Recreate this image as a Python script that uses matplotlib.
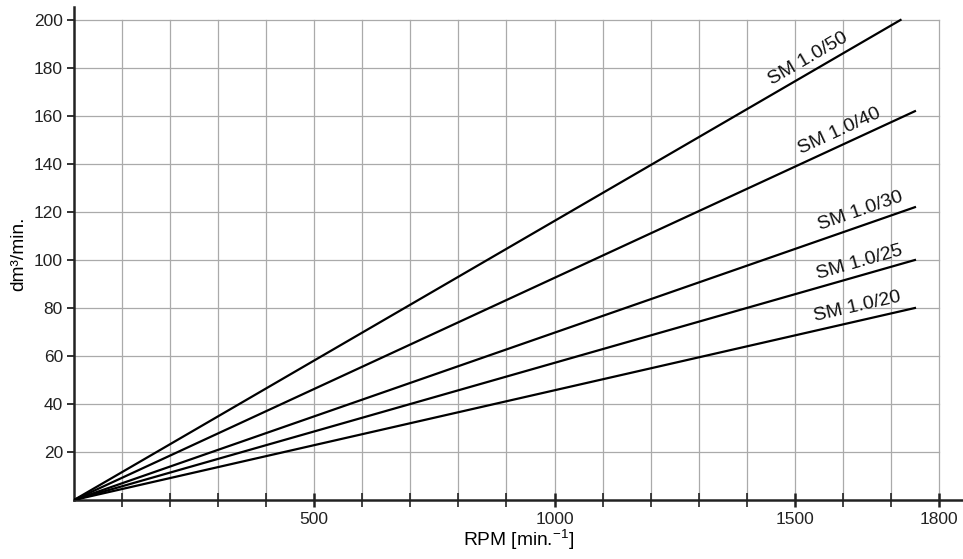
import numpy as np
import matplotlib
matplotlib.use("Agg")
import matplotlib.pyplot as plt

plt.rcParams['font.family'] = ['Liberation Sans', 'DejaVu Sans']

# =========================
# Data
# =========================

models = ["SM 1.0/20", "SM 1.0/25", "SM 1.0/30", "SM 1.0/40", "SM 1.0/50"]
rpm_end = [1750, 1750, 1750, 1750, 1720]
flow_end = [80, 100, 122, 162, 200]

# label centres (data coords)
label_x = [1631, 1635, 1637, 1593, 1527]
label_y = [80.4, 98.8, 120.4, 153.8, 184.0]

x_ticks = [500, 1000, 1500, 1800]
y_ticks = [20, 40, 60, 80, 100, 120, 140, 160, 180, 200]

# =========================
# Figure
# =========================

fig = plt.figure(figsize=(9.63, 5.59), dpi=100)
ax = fig.add_axes([74/963, 1 - 500/559, 1 - 74/963, 493/559])

ax.set_xlim(0, 1850)
ax.set_ylim(0, 205.4)

# grid only inside the data area
for gx in range(100, 1801, 100):
    ax.plot([gx, gx], [0, 200], color='#aaaaaa', lw=0.9, zorder=1)
for gy in y_ticks:
    ax.plot([0, 1800], [gy, gy], color='#aaaaaa', lw=0.9, zorder=1)

for i in range(len(models)):
    ax.plot([0, rpm_end[i]], [0, flow_end[i]], color='black', lw=1.6, zorder=3)

# rotated labels along the lines
for i in range(len(models)):
    p0 = ax.transData.transform((0, 0))
    p1 = ax.transData.transform((rpm_end[i], flow_end[i]))
    angle = np.degrees(np.arctan2(p1[1] - p0[1], p1[0] - p0[0]))
    ax.text(label_x[i], label_y[i], models[i], rotation=angle,
            rotation_mode='anchor', ha='center', va='center',
            fontsize=14, color='#111111', zorder=4)

# =========================
# Axes styling
# =========================

for side in ['top', 'right']:
    ax.spines[side].set_visible(False)
for side in ['left', 'bottom']:
    ax.spines[side].set_linewidth(1.8)
    ax.spines[side].set_color('#222222')

ax.set_yticks(y_ticks)
ax.set_yticklabels([str(v) for v in y_ticks])
ax.tick_params(axis='y', direction='out', length=5, width=1.3,
               labelsize=12.5, pad=3, colors='#222222')

ax.set_xticks(x_ticks)
ax.set_xticklabels([str(v) for v in x_ticks])
ax.set_xticks(range(100, 1801, 100), minor=True)
ax.tick_params(axis='x', which='major', direction='inout', length=10,
               width=1.8, labelsize=12.5, pad=4, colors='#222222')
ax.tick_params(axis='x', which='minor', direction='inout', length=10,
               width=1.2, colors='#222222')

ax.set_xlabel(r"RPM [min.$^{\mathregular{-1}}$]", fontsize=13.75, labelpad=0)
ax.set_ylabel("dm³/min.", fontsize=13.75, labelpad=5)

fig.savefig("out.png", dpi=100)
